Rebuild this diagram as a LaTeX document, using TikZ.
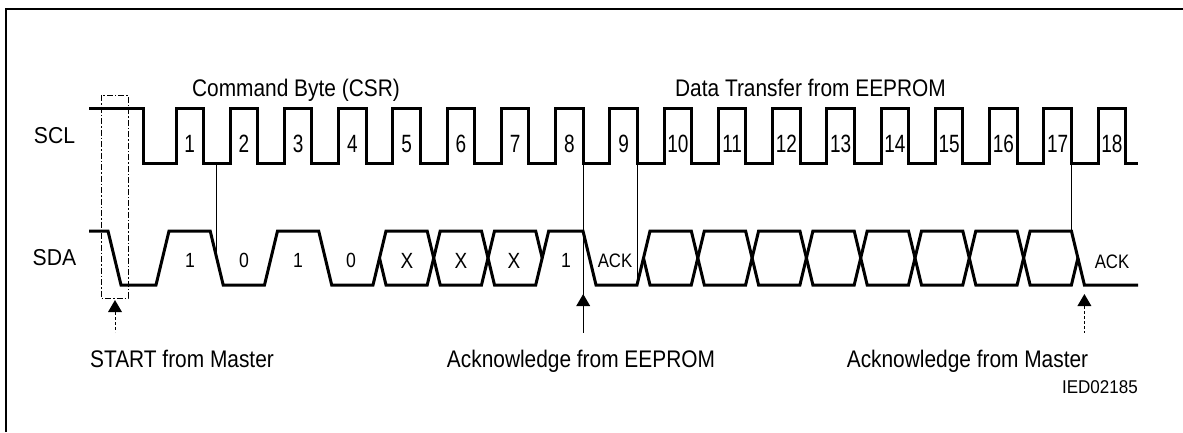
\documentclass[tikz,border=0pt]{standalone}
\usepackage{fontspec}
\setmainfont{Liberation Sans}
\newfontfamily\ttlfont[FakeStretch=0.87]{Liberation Sans}
\newfontfamily\numfont[FakeStretch=0.76]{Liberation Sans}
\newfontfamily\bitfont[FakeStretch=0.86]{Liberation Sans}
\newfontfamily\sigfont[FakeStretch=0.92]{Liberation Sans}
\usetikzlibrary{arrows.meta}
\begin{document}
\begin{tikzpicture}[x=1pt,y=-1pt,
  sig/.style={line width=3pt, line join=miter},
  thinl/.style={line width=1pt},
  frame/.style={line width=1.6pt},
  startbox/.style={line width=0.8pt, dash pattern=on 6pt off 2pt on 1.5pt off 2pt},
  dshaft/.style={line width=0.9pt, dash pattern=on 3pt off 2pt},
  head/.style={fill=black},
  ttl/.style={anchor=base, inner sep=0pt, font=\ttlfont\fontsize{24}{28}\selectfont},
  num/.style={anchor=base, inner sep=0pt, font=\numfont\fontsize{25}{28}\selectfont},
  bit/.style={anchor=base, inner sep=0pt, font=\bitfont\fontsize{20.5}{24}\selectfont},
  bitx/.style={anchor=base, inner sep=0pt, font=\bitfont\fontsize{22}{24}\selectfont},
  ackl/.style={anchor=base, inner sep=0pt, font=\bitfont\fontsize{19.5}{22}\selectfont},
  sname/.style={anchor=base, inner sep=0pt, font=\sigfont\fontsize{23}{26}\selectfont},
  code/.style={anchor=base east, inner sep=0pt, font=\sigfont\fontsize{18.5}{22}\selectfont}]
\useasboundingbox (0,0) rectangle (1183,432);

% frame
\draw[frame] (6,432) -- (6,9) -- (1183,9);

% titles
\node[ttl] (tcmd) at (296,96) {Command Byte (CSR)};
\node[ttl] (tdata) at (810.5,96.5) {Data Transfer from EEPROM};
\node[sname] (lscl) at (54.5,143) {SCL};
\node[sname] (lsda) at (54.5,265) {SDA};

% SCL waveform
\draw[sig] (89,108) -- (143,108) -- (143,163)
  \foreach \k in {0,...,17}{ -- ({176+\k*54.24},163) -- ({176+\k*54.24},108)
     -- ({203.5+\k*54.24},108) -- ({203.5+\k*54.24},163) }
  -- (1138,163);
\foreach \k in {1,...,18}
  \node[num] (n\k) at ({189.75+(\k-1)*54.24},152) {\k};

% SDA waveform
\draw[sig] (89,231) -- (108,231) -- (121,285) -- (156,285) -- (169,231)
  -- (210.2,231) -- (223.2,285) -- (264.5,285) -- (277.5,231)
  -- (318.7,231) -- (331.7,285) -- (373,285) -- (386,231)
  -- (427.2,231) -- (440.2,285) -- (481.5,285) -- (494.5,231)
  -- (535.7,231) -- (542.2,258);
\draw[sig] (379.5,258) -- (386,285) -- (427.2,285) -- (440.2,231)
  -- (481.5,231) -- (494.5,285) -- (535.7,285) -- (548.7,231)
  -- (583,231) -- (596,285) -- (637,285) -- (650,231)
  -- (691.3,231) -- (704.3,285) -- (745.6,285) -- (758.6,231)
  -- (799.9,231) -- (812.9,285) -- (854.2,285) -- (867.2,231)
  -- (908.5,231) -- (921.5,285) -- (962.8,285) -- (975.8,231)
  -- (1017.1,231) -- (1030.1,285) -- (1071.4,285) -- (1077.9,258);
\draw[sig] (643.5,258) -- (650,285) -- (691.3,285) -- (704.3,231)
  -- (745.6,231) -- (758.6,285) -- (799.9,285) -- (812.9,231)
  -- (854.2,231) -- (867.2,285) -- (908.5,285) -- (921.5,231)
  -- (962.8,231) -- (975.8,285) -- (1017.1,285) -- (1030.1,231)
  -- (1071.4,231) -- (1084.4,285) -- (1138,285);

% bit labels
\node[bit] (b1) at (190,267) {1};
\node[bit] (b2) at (244,267) {0};
\node[bit] (b3) at (298,267) {1};
\node[bit] (b4) at (351,267) {0};
\node[bitx] (b5) at (407,268) {X};
\node[bitx] (b6) at (461,268) {X};
\node[bitx] (b7) at (514,268) {X};
\node[bit] (b8) at (566,267) {1};
\node[ackl] (ack1) at (615,267) {ACK};
\node[ackl] (ack2) at (1112,268) {ACK};

% thin reference lines
\coordinate (c1t) at (216.7,163); \coordinate (c1b) at (216.7,258);
\coordinate (c8t) at (583.2,163); \coordinate (c8b) at (583.2,333);
\coordinate (c9t) at (637.2,163); \coordinate (c9b) at (637.2,285);
\coordinate (c17t) at (1071.4,163); \coordinate (c17b) at (1071.4,231);
\draw[thinl] (c1t) -- (c1b);
\draw[thinl] (c8t) -- (c8b);
\draw[thinl] (c9t) -- (c9b);
\draw[thinl] (c17t) -- (c17b);

% start box
\draw[startbox] (101,95) rectangle (128,298);

% arrows
\coordinate (sa) at (115,300);
\coordinate (sb) at (115,332);
\fill[head] (sa) -- ++(-7,12) -- ++(14,0) -- cycle;
\draw[dshaft] (115,312) -- (sb);

\fill[head] (583.2,294) -- ++(-7,12) -- ++(14,0) -- cycle;

\coordinate (ma) at (1084.4,294);
\coordinate (mb) at (1084.4,333);
\fill[head] (ma) -- ++(-7,12) -- ++(14,0) -- cycle;
\draw[dshaft] (1084.4,306) -- (mb);

% bottom captions
\node[ttl] (cstart) at (182,367) {START from Master};
\node[ttl] (ceep) at (581,367) {Acknowledge from EEPROM};
\node[ttl] (cmas) at (967.5,367) {Acknowledge from Master};
\node[code] (cid) at (1138,393.5) {IED02185};
\end{tikzpicture}
\end{document}
